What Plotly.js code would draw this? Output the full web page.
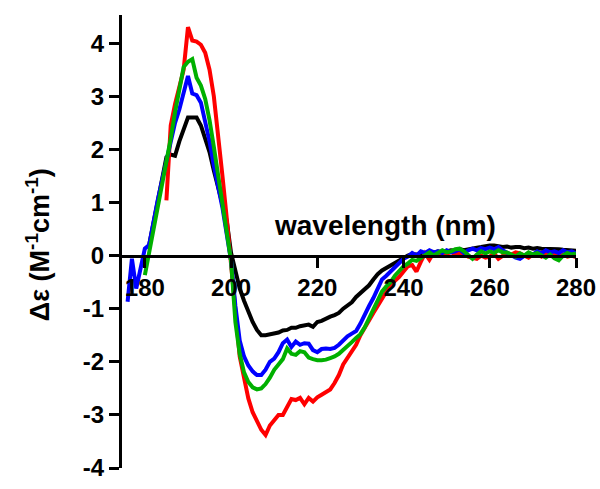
<!DOCTYPE html>
<html>
<head>
<meta charset="utf-8">
<script src="https://cdn.plot.ly/plotly-3.0.1.min.js"></script>
<style>
  html, body { margin: 0; padding: 0; background: #fff; }
  #cd { width: 600px; height: 489px; }
</style>
</head>
<body>
<div id="cd"></div>
<script>
// CD spectra, delta epsilon vs wavelength (1 nm steps)
var blueStart = 176;
var blue_data = [-0.87, -0.06, -0.62, -0.2, 0.13, 0.2, 0.65, 1.05, 1.42, 1.8,
  2.15, 2.5, 2.75, 3.1, 3.38, 3.05, 3.02, 2.88, 2.55, 2.15,
  1.7, 1.32, 0.9, 0.4, -0.1, -0.95, -1.6, -1.9, -2.07, -2.18,
  -2.25, -2.25, -2.15, -2.0, -1.94, -1.82, -1.65, -1.58, -1.72, -1.62,
  -1.68, -1.65, -1.66, -1.78, -1.82, -1.76, -1.75, -1.76, -1.74, -1.68,
  -1.6, -1.52, -1.47, -1.42, -1.28, -1.1, -0.95, -0.8, -0.6, -0.45,
  -0.38, -0.3, -0.22, -0.12, -0.06, -0.02, 0.05, 0.0, 0.08, 0.05,
  0.1, 0.06, 0.08, 0.05, 0.1, 0.06, 0.08, 0.12, 0.05, 0.1,
  0.13, 0.1, 0.14, 0.12, 0.15, 0.12, 0.16, 0.1, 0.05, 0.0,
  -0.04, -0.06, 0.0, 0.05, 0.02, 0.08, 0.04, 0.1, 0.06, 0.08,
  0.05, 0.1, 0.06, 0.08, 0.04];

var greenStart = 180;
var green_data = [-0.37, 0.05, 0.45, 0.9, 1.3, 1.75, 2.2, 2.7, 3.15, 3.55,
  3.65, 3.7, 3.35, 3.2, 2.95, 2.55, 2.05, 1.5, 1.05, 0.5,
  -0.1, -1.25, -1.85, -2.2, -2.38, -2.48, -2.52, -2.5, -2.42, -2.3,
  -2.15, -2.05, -1.95, -1.75, -1.85, -1.87, -1.8, -1.82, -1.92, -1.95,
  -1.97, -1.97, -1.96, -1.93, -1.9, -1.85, -1.78, -1.72, -1.63, -1.55,
  -1.48, -1.35, -1.18, -1.05, -0.85, -0.68, -0.58, -0.5, -0.38, -0.28,
  -0.2, -0.15, -0.08, -0.1, -0.05, 0.02, 0.06, 0.0, 0.05, 0.1,
  0.06, 0.08, 0.12, 0.13, 0.08, 0.0, -0.06, 0.02, 0.08, 0.04,
  0.08, 0.05, 0.1, 0.06, 0.06, 0.02, -0.02, 0.04, 0.0, 0.06,
  0.02, 0.05, 0.0, -0.04, 0.02, -0.05, -0.09, 0.0, 0.05, 0.02,
  0.04];

var redStart = 185;
var red_data = [1.04, 2.45, 2.85, 3.15, 3.5, 4.3, 4.05, 4.03, 3.97, 3.82,
  3.5, 3.0, 2.3, 1.5, 0.7, -0.2, -1.1, -1.9, -2.3, -2.69,
  -2.95, -3.1, -3.28, -3.38, -3.2, -3.1, -3.0, -3.0, -2.85, -2.7,
  -2.72, -2.68, -2.8, -2.68, -2.75, -2.67, -2.62, -2.56, -2.52, -2.4,
  -2.25, -2.05, -1.93, -1.78, -1.68, -1.5, -1.35, -1.2, -1.08, -0.95,
  -0.8, -0.68, -0.55, -0.48, -0.4, -0.3, -0.2, -0.18, -0.3, -0.12,
  0.04, -0.08, 0.06, 0.02, 0.06, 0.03, 0.07, 0.02, 0.05, 0.04,
  -0.02, -0.04, -0.06, 0.0, -0.04, -0.02, 0.04, -0.06, 0.0, 0.05,
  0.02, 0.06, 0.04, 0.0, -0.04, 0.02, 0.05, -0.02, 0.03, 0.0,
  0.04, -0.03, 0.02, -0.02, 0.0, -0.03];

var blackStart = 181;
var black_data = [0.2, 0.6, 1.0, 1.4, 1.85, 1.9, 1.88, 2.15, 2.4, 2.6,
  2.6, 2.6, 2.45, 2.2, 1.95, 1.6, 1.3, 0.98, 0.65, 0.05,
  -0.3, -0.62, -0.85, -1.06, -1.25, -1.4, -1.5, -1.5, -1.48, -1.47,
  -1.45, -1.41, -1.4, -1.36, -1.36, -1.33, -1.31, -1.3, -1.34, -1.25,
  -1.23, -1.2, -1.15, -1.12, -1.08, -1.0, -0.95, -0.88, -0.78, -0.7,
  -0.63, -0.56, -0.45, -0.35, -0.28, -0.23, -0.2, -0.14, -0.1, -0.03,
  0.0, 0.03, 0.02, 0.05, 0.04, 0.06, 0.05, 0.08, 0.06, 0.08,
  0.1, 0.09, 0.12, 0.1, 0.12, 0.14, 0.15, 0.16, 0.18, 0.19,
  0.19, 0.18, 0.16, 0.17, 0.15, 0.16, 0.16, 0.14, 0.15, 0.13,
  0.14, 0.13, 0.13, 0.12, 0.13, 0.12, 0.11, 0.1, 0.1, 0.09];

var xTicks = [180, 200, 220, 240, 260, 280];
var yTicks = [-4, -3, -2, -1, 0, 1, 2, 3, 4];
var yTickText = ["-4", "-3", "-2", "-1", "0", "1", "2", "3", "4"];

// wavelength axis for a series (1 nm sampling)
function wl(start, arr) {
  var out = [];
  for (var i = 0; i < arr.length; i++) out.push(start + i);
  return out;
}

var FONT = "Liberation Sans, Arial, Helvetica, sans-serif";
var yMin = -4, yMax = 4.53;

// black first so the others sit on top of it
var traces = [
  {x: wl(blackStart, black_data), y: black_data, mode: "lines", line: {color: "#000000", width: 4}},
  {x: wl(redStart, red_data), y: red_data, mode: "lines", line: {color: "#ff0000", width: 4}},
  {x: wl(blueStart, blue_data), y: blue_data, mode: "lines", line: {color: "#0000ff", width: 4}},
  {x: wl(greenStart, green_data), y: green_data, mode: "lines", line: {color: "#00b000", width: 4}}
];

var axisStyle = {
  showline: true, linecolor: "#000", linewidth: 3,
  ticks: "outside", ticklen: 10, tickwidth: 3, tickcolor: "#000",
  showgrid: false, zeroline: false,
  tickfont: {family: FONT, size: 24, color: "#000", weight: "bold"}
};

var layout = {
  width: 600, height: 489,
  margin: {l: 122, r: 24, t: 15, b: 21},
  paper_bgcolor: "#fff", plot_bgcolor: "#fff",
  showlegend: false,
  xaxis: Object.assign({}, axisStyle, {
    range: [174.7, 280], tickvals: xTicks,
    anchor: "free", position: (0 - yMin) / (yMax - yMin)
  }),
  yaxis: Object.assign({}, axisStyle, {
    range: [yMin, yMax], tickvals: yTicks, ticktext: yTickText
  }),
  annotations: [
    {text: "wavelength (nm)", xref: "x", yref: "y", x: 235.7, y: 0.57,
     showarrow: false, xanchor: "center", yanchor: "middle",
     font: {family: FONT, size: 28, color: "#000", weight: "bold"}},
    {text: "\u0394\u03b5 (M<sup>-1</sup>cm<sup>-1</sup>)", xref: "paper", yref: "paper",
     x: -0.185, y: 0.492, textangle: -90, showarrow: false,
     xanchor: "center", yanchor: "middle",
     font: {family: FONT, size: 27, color: "#000", weight: "bold"}}
  ]
};

Plotly.newPlot("cd", traces, layout, {staticPlot: true});
</script>
</body>
</html>
